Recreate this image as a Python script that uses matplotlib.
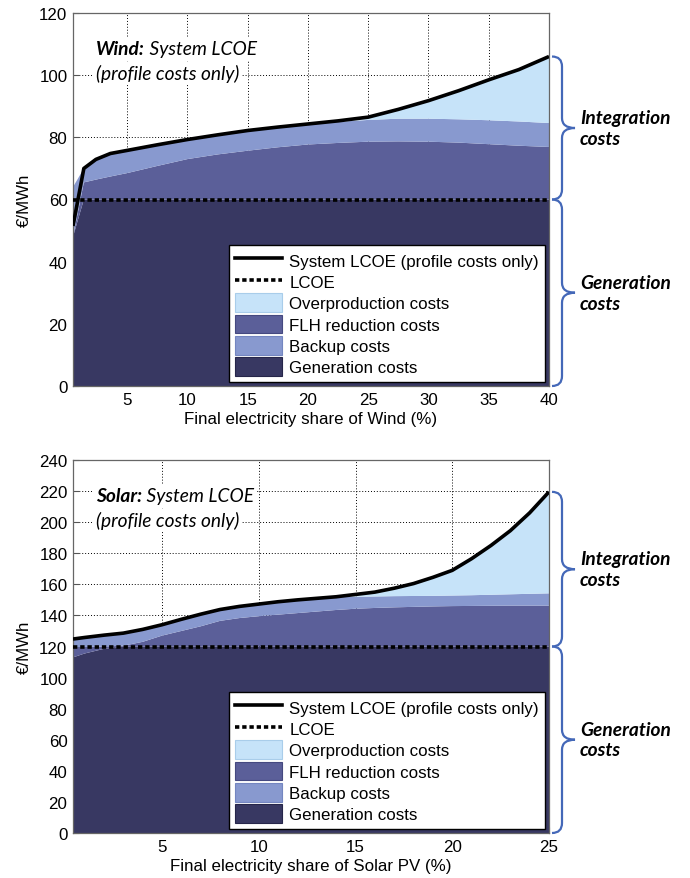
import matplotlib
matplotlib.use('Agg')
import matplotlib.pyplot as plt
import matplotlib.transforms as mtransforms
from matplotlib.path import Path
from matplotlib.patches import PathPatch, Patch
from matplotlib.lines import Line2D

plt.rcParams['font.family'] = ['Liberation Sans', 'DejaVu Sans']

#==============================================================================
# wind (top panel)
wind_x = [0.5, 1.4, 2.4, 3.6, 5, 7.5, 10, 12.5, 15, 17.5, 20, 22.5, 25, 27.5, 30, 32.5, 35, 37.5, 40]
wind_gen = [48, 60, 60, 60, 60, 60, 60, 60, 60, 60, 60, 60, 60, 60, 60, 60, 60, 60, 60]
wind_flh = [0, 5.5, 6.4, 7.4, 8.5, 10.8, 13, 14.5, 15.7, 16.8, 17.7, 18.2, 18.6, 18.7, 18.6, 18.3, 17.8, 17.3, 16.9]
wind_backup = [16, 4.5, 6.5, 7.4, 7.3, 6.8, 6.3, 6.3, 6.5, 6.5, 6.4, 6.8, 7.0, 7.3, 7.4, 7.5, 7.7, 7.8, 7.7]
wind_over = [0, 0, 0, 0, 0, 0, 0, 0, 0, 0, 0.2, 0.3, 0.9, 3.0, 5.8, 9.2, 13.0, 16.7, 21.4]
wind_sys = [51.5, 70, 72.9, 74.8, 75.8, 77.6, 79.3, 80.8, 82.2, 83.3, 84.3, 85.3, 86.5, 89, 91.8, 95, 98.5, 101.8, 106]
wind_lcoe = 60
wind_xticks = [5, 10, 15, 20, 25, 30, 35, 40]
wind_yticks = [0, 20, 40, 60, 80, 100, 120]

# solar (bottom panel)
solar_x = [0.4, 1, 2, 3, 4, 5, 6, 7, 8, 9, 10, 11, 12, 13, 14, 15, 16, 17, 18, 19, 20, 21, 22, 23, 24, 25]
solar_gen = [113, 115.5, 118.5, 120, 120, 120, 120, 120, 120, 120, 120, 120, 120, 120, 120, 120, 120, 120, 120, 120, 120, 120, 120, 120, 120, 120]
solar_flh = [6.5, 4.2, 1.5, 0.5, 3, 7, 10, 13, 16.5, 18.3, 19.5, 20.5, 21.5, 22.5, 23.5, 24.3, 24.8, 25.2, 25.5, 25.8, 26, 26.1, 26.2, 26.3, 26.3, 26.3]
solar_backup = [5.3, 6.1, 7.3, 8.1, 8, 7, 7.5, 7.8, 7.3, 7.5, 7.8, 8.3, 8.5, 8.5, 8.5, 7.7, 7.4, 7.2, 7.0, 6.8, 6.8, 6.9, 7.1, 7.3, 7.6, 7.9]
solar_over = [0, 0, 0, 0, 0, 0, 0, 0, 0, 0, 0, 0, 0, 0, 0, 1.5, 2.8, 5.1, 8.0, 11.9, 16.2, 23.5, 31.7, 40.9, 52.1, 65.3]
solar_sys = [124.8, 125.8, 127.3, 128.6, 131, 134, 137.5, 140.8, 143.8, 145.8, 147.3, 148.8, 150, 151, 152, 153.5, 155, 157.5, 160.5, 164.5, 169, 176.5, 185, 194.5, 206, 219.5]
solar_lcoe = 120
solar_xticks = [5, 10, 15, 20, 25]
solar_yticks = [0, 20, 40, 60, 80, 100, 120, 140, 160, 180, 200, 220, 240]

labels = ['System LCOE (profile costs only)', 'LCOE', 'Overproduction costs',
          'FLH reduction costs', 'Backup costs', 'Generation costs']

c_gen = '#383862'
c_flh = '#5b5f99'
c_backup = '#8899cf'
c_over = '#c6e3f9'
c_brace = '#4468b8'
dots = (0, (1.2, 0.8))
fs = 12.2      # axis / legend text
fs2 = 13.8     # calibri-like annotation text
ffam = ['Lato', 'DejaVu Sans']

W, H = 690, 879
fig = plt.figure(figsize=(W/100, H/100), dpi=100)


def brace(ax, y0, y1, ymax):
    # curly brace right of the axes, from y0 (top) to y1 (bottom), tip to the right
    bb = ax.get_position()
    wpx = bb.width*W
    hpx = bb.height*H
    x0 = 1 + 3/wpx
    xs = 1 + 13/wpx
    xt = 1 + 26/wpx
    r = 10*ymax/hpx
    ym = (y0 + y1)/2
    verts = [(x0, y0), (xs, y0), (xs, y0 - r), (xs, ym + r), (xs, ym), (xt, ym),
             (xs, ym), (xs, ym - r), (xs, y1 + r), (xs, y1), (x0, y1)]
    codes = [Path.MOVETO, Path.CURVE3, Path.CURVE3, Path.LINETO, Path.CURVE3, Path.CURVE3,
             Path.CURVE3, Path.CURVE3, Path.LINETO, Path.CURVE3, Path.CURVE3]
    tr = mtransforms.blended_transform_factory(ax.transAxes, ax.transData)
    p = PathPatch(Path(verts, codes), facecolor='none', edgecolor=c_brace, lw=1.6,
                  transform=tr, clip_on=False)
    ax.add_patch(p)
    return ym


def panel(ax, x, gen, flh, backup, over, sysl, lcoe, xticks, yticks, tech, xname):
    ax.stackplot(x, gen, flh, backup, over, colors=[c_gen, c_flh, c_backup, c_over], lw=0)
    ax.axhline(lcoe, color='black', lw=2.6, ls=dots, zorder=3)
    ax.plot(x, sysl, color='black', lw=2.6, zorder=4, solid_capstyle='butt')
    ax.set_xlim(x[0], x[-1])
    ax.set_ylim(yticks[0], yticks[-1])
    ax.set_xticks(xticks)
    ax.set_yticks(yticks)
    ax.set_axisbelow(True)
    ax.grid(True, color='black', lw=0.7, ls=(0, (1, 2)))
    ax.tick_params(direction='in', length=4, labelsize=fs, color='#555555', pad=4)
    for s in ax.spines.values():
        s.set_color('#666666')
        s.set_linewidth(0.9)
    ax.set_xlabel(xname, fontsize=fs, labelpad=3)
    ax.set_ylabel('€/MWh', fontsize=fs, labelpad=5)

    handles = [Line2D([], [], color='black', lw=2.6),
               Line2D([], [], color='black', lw=2.6, ls=dots),
               Patch(facecolor=c_over, edgecolor='#a9cdea', lw=0.8),
               Patch(facecolor=c_flh, edgecolor='#454980', lw=0.8),
               Patch(facecolor=c_backup, edgecolor='#7486c0', lw=0.8),
               Patch(facecolor=c_gen, edgecolor='#26264a', lw=0.8)]
    leg = ax.legend(handles, labels, loc='lower right', fontsize=fs, fancybox=False,
                    framealpha=1, edgecolor='black', handlelength=2.8, handleheight=1.32,
                    labelspacing=0.15, handletextpad=0.4, borderpad=0.35, borderaxespad=0.25)
    leg.get_frame().set_linewidth(1.0)
    leg.set_zorder(6)

    # title text in the plot
    t1 = ax.text(0.048, 0.905, tech + ':', transform=ax.transAxes, fontsize=fs2,
                 family=ffam, style='italic', weight='bold', va='center', zorder=6,
                 bbox=dict(facecolor='white', edgecolor='none', pad=2))
    ax.annotate(' System LCOE', xy=(1, 0.5), xycoords=t1, va='center', fontsize=fs2,
                family=ffam, style='italic', zorder=5,
                bbox=dict(facecolor='white', edgecolor='none', pad=2))
    ax.text(0.048, 0.838, '(profile costs only)', transform=ax.transAxes, fontsize=fs2,
            family=ffam, style='italic', va='center',
            bbox=dict(facecolor='white', edgecolor='none', pad=2))

    # braces and labels on the right
    ymax = yticks[-1]
    tr = mtransforms.blended_transform_factory(ax.transAxes, ax.transData)
    bb = ax.get_position()
    xt = 1 + 31/(bb.width*W)
    m1 = brace(ax, sysl[-1], lcoe, ymax)
    m2 = brace(ax, lcoe, 0, ymax)
    ax.text(xt, m1, 'Integration\ncosts', transform=tr, fontsize=fs2, va='center', ha='left',
            family=ffam, style='italic', weight='bold', linespacing=1.25)
    ax.text(xt, m2, 'Generation\ncosts', transform=tr, fontsize=fs2, va='center', ha='left',
            family=ffam, style='italic', weight='bold', linespacing=1.25)


ax1 = fig.add_axes([73/W, 1 - 387/H, 476/W, 373/H])
panel(ax1, wind_x, wind_gen, wind_flh, wind_backup, wind_over, wind_sys, wind_lcoe,
      wind_xticks, wind_yticks, 'Wind', 'Final electricity share of Wind (%)')

ax2 = fig.add_axes([73/W, 1 - 834/H, 476/W, 373/H])
panel(ax2, solar_x, solar_gen, solar_flh, solar_backup, solar_over, solar_sys, solar_lcoe,
      solar_xticks, solar_yticks, 'Solar', 'Final electricity share of Solar PV (%)')

fig.savefig('out.png', dpi=100)
